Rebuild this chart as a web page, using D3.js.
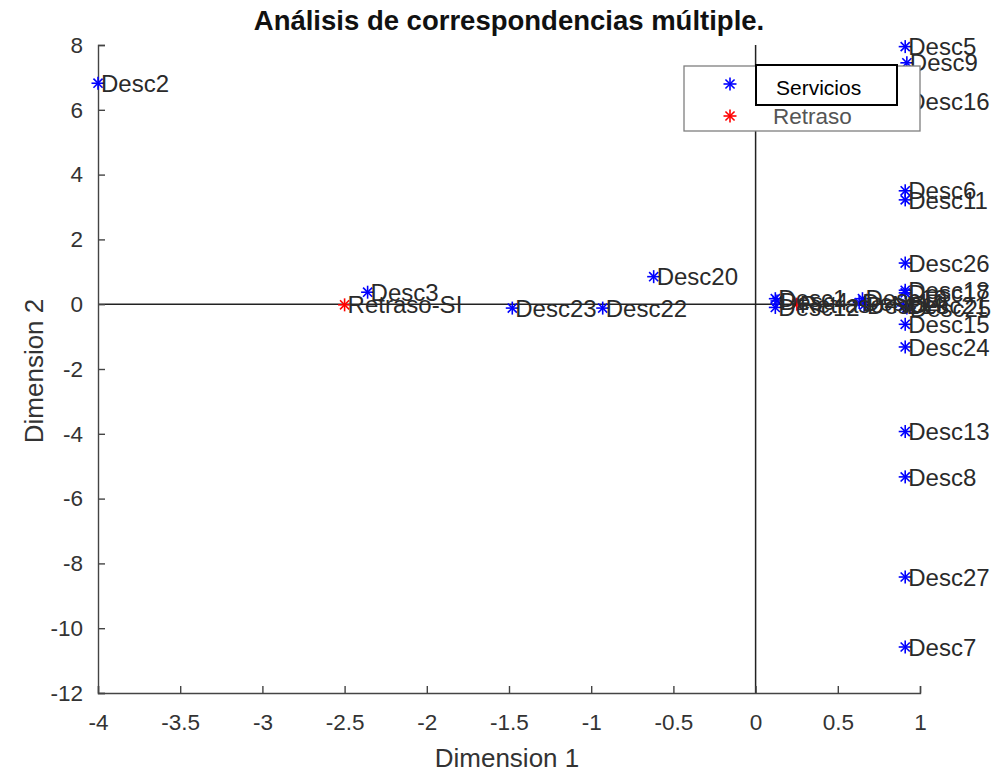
<!DOCTYPE html>
<html><head><meta charset="utf-8">
<script src="https://cdn.jsdelivr.net/npm/d3@7"></script>
<style>body{margin:0;background:#fff}svg{display:block}text{font-family:"Liberation Sans",Arial,sans-serif}</style>
</head><body><svg id="c" width="1000" height="772"></svg>
<script>
const title = "Análisis de correspondencias múltiple.";
const xLabel = "Dimension 1";
const yLabel = "Dimension 2";
const xTicks = [-4,-3.5,-3,-2.5,-2,-1.5,-1,-0.5,0,0.5,1];
const yTicks = [-12,-10,-8,-6,-4,-2,0,2,4,6,8];
const serviceNames = ["Desc1","Desc2","Desc3","Desc4","Desc5","Desc6","Desc7","Desc8","Desc9","Desc10","Desc11","Desc12","Desc13","Desc14","Desc15","Desc16","Desc17","Desc18","Desc19","Desc20","Desc21","Desc22","Desc23","Desc24","Desc25","Desc26","Desc27"];
const serviceX = [0.12,-4.0,-2.36,0.13,0.91,0.91,0.91,0.91,0.92,0.65,0.91,0.12,0.91,0.63,0.91,0.91,0.91,0.91,0.66,-0.62,0.90,-0.93,-1.48,0.91,0.92,0.91,0.91];
const serviceY = [0.17,6.82,0.37,0.10,7.95,3.50,-10.58,-5.33,7.45,0.17,3.22,-0.10,-3.93,0.05,-0.62,6.25,0.35,0.43,-0.03,0.85,-0.05,-0.12,-0.12,-1.32,-0.12,1.27,-8.42];
const delayNames = ["Retraso-SI","Retraso-NO"];
const delayX = [-2.50,0.25];
const delayY = [-0.02,0.0];
const legendLabels = ["Servicios","Retraso"];

const svg = d3.select("#c");
const L=98,R=920,T=45,B=693;
const x = d3.scaleLinear().domain([-4,1]).range([L,R]);
const y = d3.scaleLinear().domain([-12,8]).range([B,T]);
const axisCol="#262626";

// zero lines
svg.append("line").attr("x1",x(-4)).attr("x2",x(1)).attr("y1",y(0)).attr("y2",y(0)).attr("stroke","#222").attr("stroke-width",1.5);
svg.append("line").attr("x1",x(0)).attr("x2",x(0)).attr("y1",y(8)).attr("y2",y(-12)).attr("stroke","#222").attr("stroke-width",1.5);

// axes
const gx = svg.append("g").attr("transform",`translate(0,${B})`)
  .call(d3.axisBottom(x).tickValues(xTicks).tickSizeInner(-7).tickSizeOuter(-7).tickPadding(21).tickFormat(d=>String(d)));
const gy = svg.append("g").attr("transform",`translate(${L},0)`)
  .call(d3.axisLeft(y).tickValues(yTicks).tickSizeInner(-7).tickSizeOuter(-7).tickPadding(15).tickFormat(d=>String(d)));
[gx,gy].forEach(g=>{
  g.selectAll("path,line").attr("stroke","#444").attr("stroke-width",1.4);
  g.selectAll("text").attr("fill","#333").style("font-size","22.5px");
});

// asterisk marker
function star(g,cx,cy,col,r=6.5){
  const s=g.append("g").attr("transform",`translate(${cx},${cy})`).attr("stroke",col).attr("stroke-width",1.6);
  s.append("line").attr("x1",-r).attr("x2",r);
  s.append("line").attr("y1",-r).attr("y2",r);
  const d=r*0.7;
  s.append("line").attr("x1",-d).attr("y1",-d).attr("x2",d).attr("y2",d);
  s.append("line").attr("x1",-d).attr("y1",d).attr("x2",d).attr("y2",-d);
}
const pts = svg.append("g");
const labs = svg.append("g");
serviceNames.forEach((n,i)=>{
  star(pts,x(serviceX[i]),y(serviceY[i]),"#0000ff");
  labs.append("text").attr("x",x(serviceX[i])+3).attr("y",y(serviceY[i])).attr("dy","0.36em")
    .attr("fill","#2a2a2a").style("font-size","24px").text(n);
});
delayNames.forEach((n,i)=>{
  star(pts,x(delayX[i]),y(delayY[i]),"#ff0000");
  labs.append("text").attr("x",x(delayX[i])+3).attr("y",y(delayY[i])).attr("dy","0.36em")
    .attr("fill","#2a2a2a").style("font-size","24px").text(n);
});

// title and labels
svg.append("text").attr("x",509).attr("y",30).attr("text-anchor","middle").style("font-size","27.5px").style("font-weight","bold").attr("fill","#111").text(title);
svg.append("text").attr("x",507).attr("y",767).attr("text-anchor","middle").style("font-size","26px").attr("fill","#333").text(xLabel);
svg.append("text").attr("transform","translate(43,371) rotate(-90)").attr("text-anchor","middle").style("font-size","26px").attr("fill","#333").text(yLabel);

// legend
const lg = svg.append("g");
lg.append("rect").attr("x",684).attr("y",66).attr("width",236).attr("height",65).attr("fill","#fff").attr("stroke","#7f7f7f").attr("stroke-width",1.3);
star(lg,730,84,"#0000ff");
star(lg,730,116,"#ff0000");
lg.append("text").attr("x",773).attr("y",116).attr("dy","0.36em").style("font-size","22.5px").attr("fill","#555").text(legendLabels[1]);
lg.append("rect").attr("x",756).attr("y",65).attr("width",141).attr("height",40).attr("fill","#fff").attr("stroke","#000").attr("stroke-width",2);
lg.append("text").attr("x",776).attr("y",87).attr("dy","0.36em").style("font-size","21px").attr("fill","#000").text(legendLabels[0]);
</script></body></html>
